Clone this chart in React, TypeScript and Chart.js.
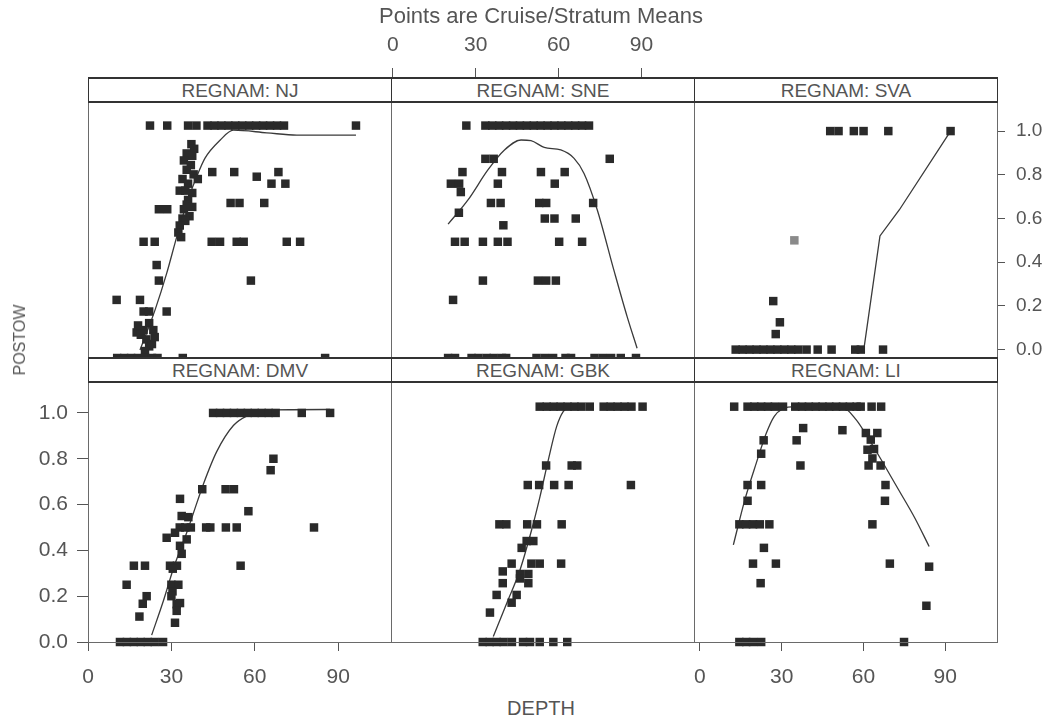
import React, { useEffect, useRef } from 'react';
import { Chart, registerables } from 'chart.js';

Chart.register(...registerables);

const FONT = "'Liberation Sans', Arial, Helvetica, sans-serif";

// ---------- tick values ----------
const X_TICKS = [0, 30, 60, 90];
const X_TICK_LABELS = ['0', '30', '60', '90'];
const Y_TICKS = [0, 0.2, 0.4, 0.6, 0.8, 1.0];
const Y_TICK_LABELS = ['0.0', '0.2', '0.4', '0.6', '0.8', '1.0'];

const REGIONS = ['NJ', 'SNE', 'SVA', 'DMV', 'GBK', 'LI'];

// ---------- NJ ----------
const NJ_POINTS: [number, number][] = [
  [22.3, 1], [28.5, 1], [36, 1], [39, 1], [43, 1], [45.5, 1], [48, 1], [50.5, 1], [53, 1], [55.5, 1],
  [58, 1], [60.5, 1], [63, 1], [65.5, 1], [68, 1], [70.5, 1], [96.4, 1],
  [44.7, 0.8], [52.6, 0.8], [60.7, 0.78], [68.5, 0.8], [66, 0.75], [71, 0.75],
  [51.3, 0.667], [54.5, 0.667], [63.4, 0.667],
  [20, 0.5], [24, 0.5], [44.5, 0.5], [47.5, 0.5], [53.5, 0.5], [56, 0.5], [71.5, 0.5], [76.3, 0.5],
  [24.7, 0.4], [25.5, 0.333], [58.6, 0.333], [10.3, 0.25], [18.7, 0.25],
  [20, 0.2], [22, 0.2], [28.3, 0.2], [25.5, 0.64], [28.5, 0.64],
  [17.5, 0.11], [18, 0.14], [19, 0.1], [20, 0.12], [21, 0.08], [22, 0.15], [22, 0.05], [23, 0.06],
  [23.5, 0.12], [24, 0.09], [20.5, 0.03],
  [10.5, 0], [13, 0], [15.5, 0], [18, 0], [20.5, 0], [23, 0], [25, 0], [34.1, 0], [85.3, 0],
  [37.2, 0.92], [38.2, 0.9], [35.5, 0.88], [37.5, 0.87], [34.5, 0.85], [37, 0.83], [35.5, 0.81],
  [38, 0.79], [34, 0.77], [39.5, 0.77], [36, 0.75], [33, 0.72], [35, 0.72], [37.5, 0.71], [36, 0.68],
  [35.5, 0.66], [34.5, 0.64], [37.5, 0.65], [36.5, 0.61], [34, 0.6], [35, 0.59], [33, 0.57],
  [32.5, 0.54], [33.5, 0.52],
];
const NJ_FIT: [number, number][] = [
  [18.7, 0.034], [24.1, 0.206], [28.3, 0.364], [31.9, 0.52], [35.5, 0.665], [39.1, 0.78], [42.1, 0.86],
  [47.5, 0.937], [52.3, 0.98], [64.3, 0.969], [75.1, 0.959], [96.4, 0.959],
];

// ---------- SNE ----------
const SNE_POINTS: [number, number][] = [
  [26.6, 1], [33.5, 1], [36, 1], [38.5, 1], [41, 1], [43.5, 1], [46, 1], [48.5, 1], [51, 1], [53.5, 1],
  [56, 1], [58.5, 1], [61, 1], [63.5, 1], [66, 1], [68.5, 1], [71, 1],
  [33.5, 0.857], [36.5, 0.857], [78.5, 0.857],
  [25.2, 0.8], [39.5, 0.8], [53.6, 0.8], [62.2, 0.8],
  [21, 0.75], [24, 0.75], [24.6, 0.714], [38, 0.75], [58.6, 0.75],
  [35.5, 0.667], [39, 0.667], [53, 0.667], [55.5, 0.667], [72.5, 0.667],
  [23.9, 0.625], [55, 0.6], [58.5, 0.6], [66.2, 0.6], [40, 0.571],
  [22.5, 0.5], [26, 0.5], [32.6, 0.5], [38, 0.5], [41.5, 0.5], [60.2, 0.5], [68.5, 0.5],
  [32.6, 0.333], [52.5, 0.333], [55.5, 0.333], [59, 0.333], [21.8, 0.25],
  [20, 0], [22.5, 0], [28.5, 0], [31, 0], [34, 0], [36.5, 0], [39.5, 0], [41, 0], [52, 0], [55, 0],
  [58, 0], [62.5, 0], [64.5, 0], [73, 0], [76, 0], [79, 0], [82.5, 0], [88, 0],
];
const SNE_FIT: [number, number][] = [
  [20, 0.576], [27.2, 0.68], [34.4, 0.809], [40.4, 0.895], [46.4, 0.938], [50, 0.935], [54.8, 0.906],
  [60.8, 0.895], [65.6, 0.859], [69.2, 0.794], [74, 0.637], [80, 0.378], [84.8, 0.178], [88.4, 0.042],
];

// ---------- SVA ----------
const SVA_POINTS: [number, number][] = [
  [49, 1], [52, 1], [57.5, 1], [61, 1], [69.9, 1], [92.3, 1],
  [28.5, 0.222], [30.9, 0.125], [29.4, 0.071],
  [15, 0], [17.5, 0], [20, 0], [22.5, 0], [25, 0], [27.5, 0], [30, 0], [32.5, 0], [35, 0], [37.5, 0],
  [40.5, 0], [44.5, 0], [49.5, 0], [58, 0], [60, 0], [68, 0],
];
const SVA_GRAY_POINTS: [number, number][] = [[36.1, 0.5]];
const SVA_FIT: [number, number][] = [[61.2, 0.01], [66.9, 0.52], [73.9, 0.64], [92.3, 1.0]];

// ---------- DMV ----------
const DMV_POINTS: [number, number][] = [
  [45, 1], [47.5, 1], [50, 1], [52.5, 1], [55, 1], [57.5, 1], [60, 1], [62.5, 1], [65, 1], [67.5, 1],
  [76.9, 1], [87.1, 1],
  [66.7, 0.8], [65.7, 0.75], [41.1, 0.667], [49.5, 0.667], [52.5, 0.667], [57.7, 0.571],
  [33.1, 0.625], [33.7, 0.55], [36.1, 0.545],
  [33, 0.5], [35, 0.5], [37, 0.5], [42.5, 0.5], [44, 0.5], [49.6, 0.5], [53.5, 0.5], [81.3, 0.5],
  [28.3, 0.455], [31.3, 0.477], [33.1, 0.42], [33.7, 0.385], [35.5, 0.448],
  [29.5, 0.333], [32, 0.333], [30.5, 0.32], [54.9, 0.333], [16.5, 0.333], [20.5, 0.333],
  [13.9, 0.25], [30, 0.25], [32.5, 0.25], [21.1, 0.2], [19.7, 0.167], [18.5, 0.111],
  [30.4, 0.221], [31.9, 0.165], [33.1, 0.17], [31.9, 0.136], [31.3, 0.084], [30, 0.2],
  [11.5, 0], [14, 0], [16.5, 0], [19, 0], [21.5, 0], [24, 0], [27, 0],
];
const DMV_FIT: [number, number][] = [
  [22.9, 0.03], [27.1, 0.179], [30.7, 0.32], [35.5, 0.477], [37.9, 0.562], [41.5, 0.689], [46.3, 0.831],
  [52.3, 0.945], [57.7, 0.99], [64.3, 1.013], [87.1, 1.015],
];

// ---------- GBK ----------
const GBK_POINTS: [number, number][] = [
  [53.5, 1], [56, 1], [58.5, 1], [61, 1], [63.5, 1], [66, 1], [68.5, 1], [71.5, 1], [76.5, 1], [79, 1],
  [81.5, 1], [84, 1], [86.5, 1], [90.5, 1],
  [55.8, 0.75], [65, 0.75], [67, 0.75],
  [49.2, 0.667], [53.3, 0.667], [58.7, 0.667], [63.9, 0.667], [86.3, 0.667],
  [39, 0.5], [41.5, 0.5], [49, 0.5], [52.5, 0.5], [61.4, 0.5],
  [48.8, 0.429], [51.2, 0.429], [47, 0.4],
  [43.4, 0.333], [50.5, 0.333], [53.5, 0.333], [61.2, 0.333],
  [40.2, 0.3], [46.4, 0.289], [49.4, 0.289], [49.4, 0.25], [46.4, 0.27], [40.2, 0.25],
  [38, 0.2], [45.2, 0.2], [43.4, 0.167], [35.6, 0.125],
  [33, 0], [35.5, 0], [38, 0], [40.5, 0], [43.5, 0], [47.5, 0], [50, 0], [53.5, 0], [58.4, 0], [63.4, 0],
];
const GBK_FIT: [number, number][] = [
  [36.8, 0.023], [41.6, 0.164], [46.4, 0.306], [50.6, 0.477], [53.6, 0.618], [56.6, 0.774],
  [59.6, 0.916], [62, 0.98], [64.4, 1.0],
];

// ---------- LI ----------
const LI_POINTS: [number, number][] = [
  [12.6, 1], [17.5, 1], [20, 1], [22.5, 1], [25, 1], [27.5, 1], [30.5, 1], [35, 1], [37.5, 1], [40, 1],
  [42.5, 1], [45, 1], [47.5, 1], [50, 1], [52.5, 1], [55, 1], [57.5, 1], [59, 1], [63, 1], [66.5, 1],
  [37.9, 0.909], [52.3, 0.9], [23.4, 0.857], [35.5, 0.857], [22.5, 0.8], [36.9, 0.75],
  [60.9, 0.888], [65.1, 0.888], [62.7, 0.86], [61.5, 0.817], [63.9, 0.82], [63.3, 0.78], [61.9, 0.75],
  [66.3, 0.75], [68.1, 0.667], [67.9, 0.6], [17.5, 0.667], [22.5, 0.667], [17.5, 0.6],
  [14.5, 0.5], [17, 0.5], [19.5, 0.5], [22, 0.5], [25.5, 0.5], [63.3, 0.5],
  [23.5, 0.4], [19.5, 0.333], [27.9, 0.333], [69.7, 0.333], [84.1, 0.32], [22.3, 0.25], [83.1, 0.154],
  [14.5, 0], [17, 0], [19.5, 0], [22.5, 0], [74.9, 0],
];
const LI_FIT: [number, number][] = [
  [12.3, 0.413], [16.5, 0.604], [20.7, 0.76], [24.4, 0.888], [27.3, 0.959], [30.3, 0.99], [35.2, 1.0],
  [51.9, 1.0], [57.3, 0.945], [62.1, 0.86], [66.9, 0.767], [72.9, 0.647], [78.9, 0.526], [84.1, 0.406],
];

// ---------- layout ----------
const COL_LEFT = [88, 391, 694];
const COL_W = 303;
const ROWS = [
  { top: 77, bottom: 358, max: 1.209 },
  { top: 357, bottom: 642, max: 1.211 },
];
const STRIP_H = 25;
const X_MAX = 109;

type PanelSpec = {
  name: string;
  col: number;
  row: number;
  points: [number, number][];
  gray?: [number, number][];
  fit: [number, number][];
  tension: number;
  left?: boolean;
  right?: boolean;
  top?: boolean;
  bottom?: boolean;
};

const PANELS: PanelSpec[] = [
  { name: REGIONS[0], col: 0, row: 0, points: NJ_POINTS, fit: NJ_FIT, tension: 0.4 },
  { name: REGIONS[1], col: 1, row: 0, points: SNE_POINTS, fit: SNE_FIT, tension: 0.4, top: true },
  { name: REGIONS[2], col: 2, row: 0, points: SVA_POINTS, gray: SVA_GRAY_POINTS, fit: SVA_FIT, tension: 0, right: true },
  { name: REGIONS[3], col: 0, row: 1, points: DMV_POINTS, fit: DMV_FIT, tension: 0.4, left: true, bottom: true },
  { name: REGIONS[4], col: 1, row: 1, points: GBK_POINTS, fit: GBK_FIT, tension: 0.4 },
  { name: REGIONS[5], col: 2, row: 1, points: LI_POINTS, fit: LI_FIT, tension: 0.4, bottom: true },
];

const PAD = 14;
const LEFT_AXIS_W = 70;
const RIGHT_AXIS_W = 54;
const TOP_AXIS_H = 77;
const BOTTOM_AXIS_H = 54;

function geom(p: PanelSpec) {
  const r = ROWS[p.row];
  const padL = p.left ? LEFT_AXIS_W : PAD;
  const padR = p.right ? RIGHT_AXIS_W : PAD;
  const padT = p.top ? TOP_AXIS_H : PAD;
  const padB = p.bottom ? BOTTOM_AXIS_H : PAD;
  const plotH = r.bottom - r.top;
  return {
    left: COL_LEFT[p.col] - padL,
    top: r.top - padT,
    width: COL_W + padL + padR,
    height: plotH + padT + padB,
  };
}

function Panel({ p }: { p: PanelSpec }) {
  const ref = useRef<HTMLCanvasElement>(null);
  const g = geom(p);
  useEffect(() => {
    const r = ROWS[p.row];
    const showX = !!(p.top || p.bottom);
    const showY = !!(p.left || p.right);
    const datasets: any[] = [
      {
        type: 'scatter',
        data: p.points.map(([x, y]) => ({ x, y })),
        pointStyle: 'rect',
        pointRadius: 6,
        backgroundColor: '#2a2a2a',
        borderWidth: 0,
        clip: false,
      },
      {
        type: 'line',
        data: p.fit.map(([x, y]) => ({ x, y })),
        borderColor: '#3a3a3a',
        borderWidth: 1.3,
        pointRadius: 0,
        tension: p.tension,
        cubicInterpolationMode: p.tension > 0 ? 'monotone' : 'default',
        fill: false,
        clip: false,
      },
    ];
    if (p.gray) {
      datasets.push({
        type: 'scatter',
        data: p.gray.map(([x, y]) => ({ x, y })),
        pointStyle: 'rect',
        pointRadius: 6,
        backgroundColor: '#8a8a8a',
        borderWidth: 0,
        clip: false,
      });
    }
    const chart = new Chart(ref.current as HTMLCanvasElement, {
      type: 'scatter',
      data: { datasets },
      options: {
        animation: false,
        responsive: false,
        maintainAspectRatio: false,
        devicePixelRatio: 1,
        events: [],
        layout: {
          padding: {
            left: p.left ? 0 : PAD,
            right: p.right ? 0 : PAD,
            top: p.top ? 0 : PAD,
            bottom: p.bottom ? 0 : PAD,
          },
        },
        plugins: { legend: { display: false }, tooltip: { enabled: false }, title: { display: false } },
        scales: {
          x: {
            type: 'linear',
            min: 0,
            max: X_MAX,
            position: p.top ? 'top' : 'bottom',
            display: showX,
            afterBuildTicks: (s: any) => {
              s.ticks = X_TICKS.map((v) => ({ value: v }));
            },
            afterFit: (s: any) => {
              if (showX) s.height = p.top ? TOP_AXIS_H : BOTTOM_AXIS_H;
            },
            grid: { drawOnChartArea: false, drawTicks: true, tickLength: 9, color: '#555', lineWidth: 1 },
            border: { display: false },
            ticks: {
              autoSkip: false,
              maxRotation: 0,
              color: '#555',
              padding: p.top ? 10 : 14,
              font: { family: FONT, size: 21 },
              callback: (v: any) => X_TICK_LABELS[X_TICKS.indexOf(Number(v))] ?? '',
            },
          },
          y: {
            type: 'linear',
            min: 0,
            max: r.max,
            position: p.left ? 'left' : 'right',
            display: showY,
            afterBuildTicks: (s: any) => {
              s.ticks = Y_TICKS.map((v) => ({ value: v }));
            },
            afterFit: (s: any) => {
              if (showY) s.width = p.left ? LEFT_AXIS_W : RIGHT_AXIS_W;
            },
            grid: { drawOnChartArea: false, drawTicks: true, tickLength: p.left ? 11 : 8, color: '#555', lineWidth: 1 },
            border: { display: false },
            ticks: {
              autoSkip: false,
              color: '#555',
              padding: p.left ? 9 : 11,
              font: { family: FONT, size: p.left ? 21 : 19 },
              callback: (v: any) => Y_TICK_LABELS[Y_TICKS.indexOf(Number(v))] ?? '',
            },
          },
        },
      } as any,
    });
    return () => chart.destroy();
  }, []);
  return (
    <canvas
      ref={ref}
      width={g.width}
      height={g.height}
      style={{ position: 'absolute', left: g.left, top: g.top, width: g.width, height: g.height, zIndex: 1 }}
    />
  );
}

export default function App() {
  return (
    <div
      style={{
        position: 'absolute',
        left: 0,
        top: 0,
        width: 1052,
        height: 722,
        background: '#fff',
        overflow: 'hidden',
        fontFamily: FONT,
      }}
    >
      {PANELS.map((p) => (
        <Panel key={p.name} p={p} />
      ))}
      {PANELS.map((p) => {
        const r = ROWS[p.row];
        return (
          <div
            key={'box' + p.name}
            style={{
              position: 'absolute',
              left: COL_LEFT[p.col],
              top: r.top,
              width: COL_W + 1,
              height: r.bottom - r.top + 1,
              boxSizing: 'border-box',
              border: '1px solid #6a6a6a',
              zIndex: 2,
              pointerEvents: 'none',
            }}
          />
        );
      })}
      {PANELS.map((p) => {
        const r = ROWS[p.row];
        return (
          <div
            key={'strip' + p.name}
            style={{
              position: 'absolute',
              left: COL_LEFT[p.col],
              top: r.top,
              width: COL_W + 1,
              height: STRIP_H + 1,
              boxSizing: 'border-box',
              border: '1px solid #333',
              borderTopWidth: 2,
              borderBottomWidth: 2,
              background: '#fff',
              zIndex: 3,
              color: '#555',
              fontSize: 19,
              lineHeight: '24px',
              textAlign: 'center',
              whiteSpace: 'nowrap',
            }}
          >
            {'REGNAM: ' + p.name}
          </div>
        );
      })}
      <div
        style={{
          position: 'absolute',
          left: 0,
          width: 1082,
          top: 4,
          textAlign: 'center',
          fontSize: 22,
          lineHeight: '24px',
          color: '#555',
          zIndex: 4,
        }}
      >
        Points are Cruise/Stratum Means
      </div>
      <div
        style={{
          position: 'absolute',
          left: 0,
          width: 1082,
          top: 696,
          textAlign: 'center',
          fontSize: 20,
          lineHeight: '24px',
          color: '#555',
          zIndex: 4,
        }}
      >
        DEPTH
      </div>
      <div
        style={{
          position: 'absolute',
          left: 20,
          top: 340,
          transform: 'translate(-50%, -50%) rotate(-90deg)',
          fontSize: 16,
          lineHeight: '18px',
          color: '#555',
          whiteSpace: 'nowrap',
          zIndex: 4,
        }}
      >
        POSTOW
      </div>
    </div>
  );
}
